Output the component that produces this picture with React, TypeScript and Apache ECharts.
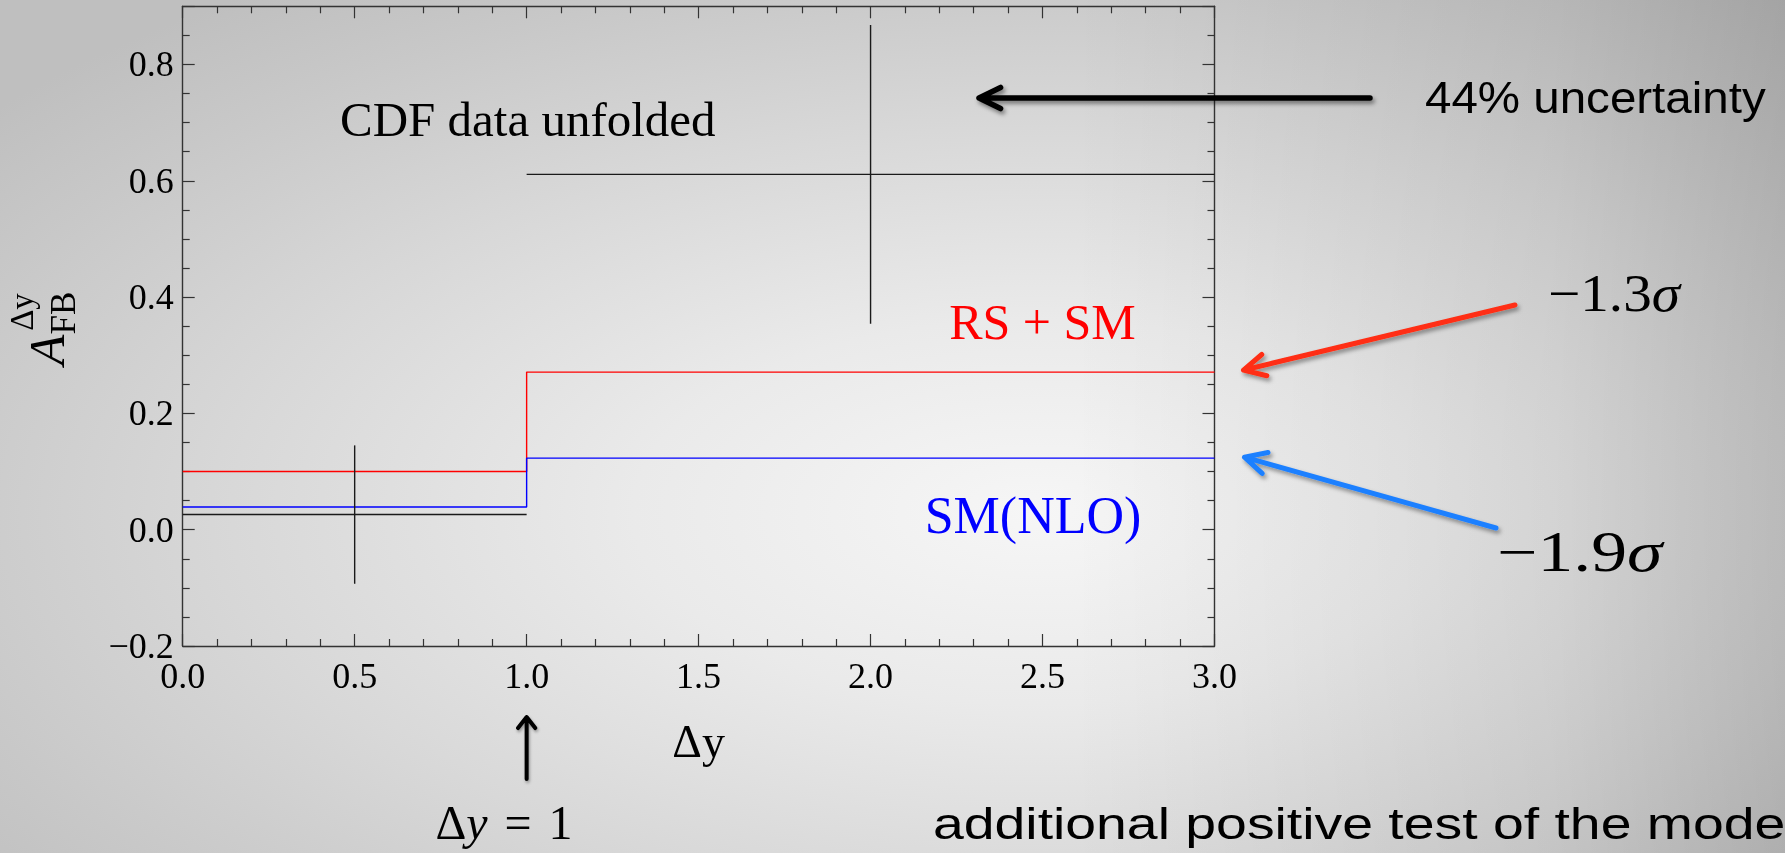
import React, { useEffect, useRef } from "react";
import * as echarts from "echarts";

// Δy bins and the forward-backward asymmetry in each bin
const binEdges = [0, 1, 3];
const rsPlusSm = [0.1, 0.271];
const smNlo = [0.039, 0.123];
const cdfUnfolded = [0.026, 0.611];
const cdfError = [0.119, 0.257];

// axis ranges and tick steps
const X_MIN = 0;
const X_MAX = 3;
const X_STEP = 0.5;
const Y_MIN = -0.2;
const Y_MAX = 0.9;
const Y_STEP = 0.2;

const W = 1785;
const H = 853;
const SERIF = "'Liberation Serif', 'Times New Roman', serif";
const SANS = "'Liberation Sans', Arial, Helvetica, sans-serif";
const FRAME = "#333333";

function stepLine(values: number[]) {
  const pts: number[][] = [];
  values.forEach((v, i) => {
    pts.push([binEdges[i], v], [binEdges[i + 1], v]);
  });
  return pts;
}

function fmtTick(v: number, step: number) {
  if (Math.abs(v / step - Math.round(v / step)) > 1e-6) return "";
  const s = Math.abs(v).toFixed(1);
  return v < -1e-9 ? "\u2212" + s : s;
}

function arrow(
  tail: number[],
  tip: number[],
  color: string,
  width: number,
  headLen: number,
  halfAngleDeg: number,
  shadow: { blur: number; dx: number; dy: number; alpha: number }
) {
  const ang = Math.atan2(tail[1] - tip[1], tail[0] - tip[0]);
  const h = (halfAngleDeg * Math.PI) / 180;
  const a1 = [tip[0] + headLen * Math.cos(ang + h), tip[1] + headLen * Math.sin(ang + h)];
  const a2 = [tip[0] + headLen * Math.cos(ang - h), tip[1] + headLen * Math.sin(ang - h)];
  return {
    type: "polyline",
    silent: true,
    z: 20,
    shape: { points: [a1, tip, a2, tip, tail] },
    style: {
      stroke: color,
      fill: "none",
      lineWidth: width,
      lineCap: "round",
      lineJoin: "round",
      shadowBlur: shadow.blur,
      shadowOffsetX: shadow.dx,
      shadowOffsetY: shadow.dy,
      shadowColor: `rgba(0,0,0,${shadow.alpha})`,
    },
  };
}

function axisCommon(minorSplit: number) {
  return {
    type: "value",
    axisLine: { show: true, onZero: false, lineStyle: { color: FRAME, width: 1.4 } },
    axisTick: { show: true, inside: true, length: 12, lineStyle: { color: FRAME, width: 1.2 } },
    minorTick: { show: true, splitNumber: minorSplit, length: 7, lineStyle: { color: FRAME, width: 1.2 } },
    splitLine: { show: false },
    minorSplitLine: { show: false },
  };
}

export default function App() {
  const ref = useRef<HTMLDivElement>(null);

  useEffect(() => {
    const el = ref.current;
    if (!el) return;
    const chart = echarts.init(el, undefined, { renderer: "svg" });

    const tickLabel = {
      color: "#000",
      fontFamily: SERIF,
      fontSize: 36,
    };

    chart.setOption({
      animation: false,
      backgroundColor: "transparent",
      grid: {
        left: 182.7,
        right: W - 1214.5,
        top: 6.3,
        bottom: H - 646,
        containLabel: false,
        outerBoundsMode: "none",
      },
      xAxis: [
        {
          ...axisCommon(5),
          position: "bottom",
          min: X_MIN,
          max: X_MAX,
          interval: X_STEP,
          axisLabel: { ...tickLabel, margin: 12, formatter: (v: number) => fmtTick(v, X_STEP) },
          name: "\u0394y",
          nameLocation: "middle",
          nameGap: 95,
          nameTextStyle: { fontFamily: SERIF, fontSize: 46, color: "#000", verticalAlign: "middle" },
        },
        {
          ...axisCommon(5),
          position: "top",
          min: X_MIN,
          max: X_MAX,
          interval: X_STEP,
          axisLabel: { show: false },
        },
      ],
      yAxis: [
        {
          ...axisCommon(4),
          position: "left",
          min: Y_MIN,
          max: Y_MAX,
          interval: Y_STEP,
          axisLabel: { ...tickLabel, margin: 9, formatter: (v: number) => fmtTick(v, Y_STEP) },
        },
        {
          ...axisCommon(4),
          position: "right",
          min: Y_MIN,
          max: Y_MAX,
          interval: Y_STEP,
          axisLabel: { show: false },
        },
      ],
      series: [
        {
          type: "line",
          name: "RS + SM",
          xAxisIndex: 0,
          yAxisIndex: 0,
          data: stepLine(rsPlusSm),
          symbol: "none",
          silent: true,
          z: 3,
          lineStyle: { color: "#ff0000", width: 1.4 },
        },
        {
          type: "line",
          name: "SM(NLO)",
          xAxisIndex: 0,
          yAxisIndex: 0,
          data: stepLine(smNlo),
          symbol: "none",
          silent: true,
          z: 4,
          lineStyle: { color: "#0000ff", width: 1.4 },
        },
        {
          type: "custom",
          name: "CDF data unfolded",
          xAxisIndex: 0,
          yAxisIndex: 0,
          silent: true,
          z: 5,
          data: cdfUnfolded.map((v, i) => [binEdges[i], binEdges[i + 1], v, cdfError[i]]),
          encode: { x: [0, 1], y: 2 },
          renderItem: (_params: any, api: any) => {
            const x0 = api.value(0);
            const x1 = api.value(1);
            const v = api.value(2);
            const e = api.value(3);
            const xc = (x0 + x1) / 2;
            const a = api.coord([x0, v]);
            const b = api.coord([x1, v]);
            const top = api.coord([xc, v + e]);
            const bot = api.coord([xc, v - e]);
            const style = { stroke: "#1a1a1a", lineWidth: 1.4 };
            return {
              type: "group",
              children: [
                { type: "line", shape: { x1: a[0], y1: a[1], x2: b[0], y2: b[1] }, style },
                { type: "line", shape: { x1: top[0], y1: top[1], x2: bot[0], y2: bot[1] }, style },
              ],
            };
          },
        },
      ],
    });

    const px = (x: number, y: number) =>
      chart.convertToPixel({ xAxisIndex: 0, yAxisIndex: 0 }, [x, y]) as number[];

    const redEnd = px(X_MAX, rsPlusSm[1]);
    const blueEnd = px(X_MAX, smNlo[1]);
    const stepX = px(binEdges[1], 0)[0];

    const rotTitle = (text: string, x: number, y: number, size: number, italic: boolean) => ({
      type: "text",
      x,
      y,
      rotation: Math.PI / 2,
      silent: true,
      style: {
        text,
        fill: "#000",
        font: `${italic ? "italic " : ""}${size}px ${SERIF}`,
        textAlign: "center",
        textVerticalAlign: "middle",
      },
    });

    const sigma = (text: string, x: number, y: number, size: number, sx: number) => ({
      type: "text",
      x,
      y,
      scaleX: sx,
      silent: true,
      style: {
        text: `{n|${text}}{s|\u03c3}`,
        textAlign: "left",
        textVerticalAlign: "middle",
        rich: {
          n: { fontFamily: SERIF, fontSize: size, fill: "#000" },
          s: { fontFamily: SERIF, fontSize: size, fontStyle: "italic", fill: "#000" },
        },
      },
    });

    chart.setOption({
      graphic: [
        // slide background: soft radial light with a darker right edge
        {
          type: "rect",
          silent: true,
          z: -100,
          shape: { x: 0, y: 0, width: W, height: H },
          style: {
            fill: {
              type: "radial",
              x: 0.58,
              y: 0.6,
              r: 0.75,
              colorStops: [
                { offset: 0, color: "#f6f6f6" },
                { offset: 0.3, color: "#eaeaea" },
                { offset: 0.6, color: "#d8d8d8" },
                { offset: 0.85, color: "#c8c8c8" },
                { offset: 1, color: "#bfbfbf" },
              ],
            },
          },
        },
        {
          type: "rect",
          silent: true,
          z: -99,
          shape: { x: 0, y: 0, width: W, height: H },
          style: {
            fill: {
              type: "linear",
              x: 0,
              y: 0,
              x2: 1,
              y2: 0,
              colorStops: [
                { offset: 0, color: "rgba(0,0,0,0)" },
                { offset: 0.6, color: "rgba(0,0,0,0)" },
                { offset: 0.72, color: "rgba(0,0,0,0.035)" },
                { offset: 0.87, color: "rgba(0,0,0,0.075)" },
                { offset: 1, color: "rgba(0,0,0,0.15)" },
              ],
            },
          },
        },
        // y-axis title A_FB^Δy
        rotTitle("A", 47, 350, 50, true),
        rotTitle("FB", 63, 313, 35, false),
        rotTitle("\u0394y", 22, 312, 33, false),
        // in-plot labels
        {
          type: "text",
          x: 340,
          y: 119.6,
          silent: true,
          style: {
            text: "CDF data unfolded",
            fill: "#000",
            font: `49px ${SERIF}`,
            textAlign: "left",
            textVerticalAlign: "middle",
          },
        },
        {
          type: "text",
          x: 1042.5,
          y: 322.4,
          silent: true,
          style: {
            text: "RS + SM",
            fill: "#ff0000",
            font: `50px ${SERIF}`,
            textAlign: "center",
            textVerticalAlign: "middle",
          },
        },
        {
          type: "text",
          x: 1033,
          y: 515,
          silent: true,
          style: {
            text: "SM(NLO)",
            fill: "#0000ff",
            font: `52px ${SERIF}`,
            textAlign: "center",
            textVerticalAlign: "middle",
          },
        },
        // annotations to the right
        arrow([1370, 98], [979, 98], "#000000", 5.5, 24, 26, { blur: 4, dx: 2, dy: 3, alpha: 0.45 }),
        {
          type: "text",
          x: 1425,
          y: 98,
          scaleX: 1.08,
          silent: true,
          style: {
            text: "44% uncertainty",
            fill: "#000",
            font: `44px ${SANS}`,
            textAlign: "left",
            textVerticalAlign: "middle",
          },
        },
        arrow([1515, 305], [redEnd[0] + 29, redEnd[1] - 2], "#ff2e12", 5, 24, 27, {
          blur: 4,
          dx: 2,
          dy: 3,
          alpha: 0.4,
        }),
        arrow([1496, 528], [blueEnd[0] + 30, blueEnd[1] - 1], "#1f80ff", 5, 24, 27, {
          blur: 4,
          dx: 2,
          dy: 3,
          alpha: 0.4,
        }),
        sigma("\u22121.3", 1548, 293, 52, 1.1),
        sigma("\u22121.9", 1497, 552, 56, 1.28),
        // marker for the bin boundary
        arrow([stepX, 779], [stepX, 717], "#000000", 4, 14, 38, { blur: 3, dx: 1, dy: 2, alpha: 0.35 }),
        {
          type: "text",
          x: 504,
          y: 822,
          silent: true,
          style: {
            text: "{n|\u0394}{i|y}{e|=}{n|1}",
            textAlign: "center",
            textVerticalAlign: "middle",
            rich: {
              n: { fontFamily: SERIF, fontSize: 48, fill: "#000" },
              i: { fontFamily: SERIF, fontSize: 48, fontStyle: "italic", fill: "#000" },
              e: { fontFamily: SERIF, fontSize: 48, fill: "#000", padding: [0, 17, 0, 17] },
            },
          },
        },
        {
          type: "text",
          x: 933,
          y: 823,
          scaleX: 1.23,
          silent: true,
          style: {
            text: "additional positive test of the mode",
            fill: "#000",
            font: `45px ${SANS}`,
            textAlign: "left",
            textVerticalAlign: "middle",
          },
        },
      ],
    });

    return () => chart.dispose();
  }, []);

  return (
    <div
      ref={ref}
      style={{ position: "fixed", left: 0, top: 0, width: W, height: H }}
    />
  );
}
